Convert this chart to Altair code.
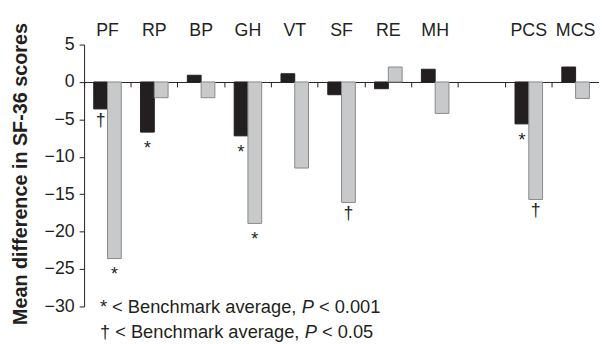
import altair as alt
import pandas as pd

# ---- data ----
categories = ["PF", "RP", "BP", "GH", "VT", "SF", "RE", "MH", " ", "PCS", "MCS"]
bar_categories = ["PF", "RP", "BP", "GH", "VT", "SF", "RE", "MH", "PCS", "MCS"]
series_names = ["A", "B"]
series_a = [-3.6, -6.7, 0.9, -7.2, 1.1, -1.7, -0.9, 1.7, -5.6, 2.0]
series_b = [-23.6, -2.1, -2.1, -18.9, -11.5, -16.1, 2.0, -4.2, -15.7, -2.2]
marks_a = ["†", "*", "", "*", "", "", "", "", "*", ""]
marks_b = ["*", "", "", "*", "", "†", "", "", "†", ""]
legend_lines = [
    ["* < Benchmark average,", "P", "< 0.001"],
    ["† < Benchmark average,", "P", "< 0.05"],
]
y_ticks = [5, 0, -5, -10, -15, -20, -25, -30]
y_title = "Mean difference in SF-36 scores"

# ---- layout ----
W, H = 521, 265
FS = 18
DARK = "#231f20"
GRAY = "#c8c9ca"
GRAY_STROKE = "#8a8a8a"
FONT = "Liberation Sans"

rows = []
for i, c in enumerate(bar_categories):
    rows.append({"cat": c, "series": "A", "value": series_a[i], "mark": marks_a[i]})
    rows.append({"cat": c, "series": "B", "value": series_b[i], "mark": marks_b[i]})
df = pd.DataFrame(rows)

xscale = alt.Scale(domain=categories, paddingInner=0, paddingOuter=0)
yscale = alt.Scale(domain=[-30, 5], nice=False)
xoff = alt.XOffset("series:N", scale=alt.Scale(domain=series_names, paddingOuter=0.7, paddingInner=0))

yaxis = alt.Axis(values=y_ticks, title=y_title, grid=False, domainColor=DARK, tickColor=DARK,
                 tickSize=5, labelPadding=5, labelFontSize=FS, labelFont=FONT, labelColor=DARK,
                 labelExpr="datum.value < 0 ? '\u2212' + abs(datum.value) : datum.label",
                 titleFontSize=20, titleFont=FONT, titleFontWeight="bold", titleColor=DARK,
                 titleAngle=270, titleX=-58, titleY=H / 2 - 2, titleAlign="center",
                 titleBaseline="alphabetic")
yenc = alt.Y("value:Q", scale=yscale, axis=yaxis)

top_axis = alt.Axis(orient="top", title=None, ticks=False, domain=False, labelAngle=0,
                    labelFontSize=FS, labelFont=FONT, labelColor=DARK, labelPadding=5)
bottom_axis = alt.Axis(orient="bottom", title=None, labels=False, ticks=True, tickSize=5,
                       bandPosition=0, domain=True, domainColor=DARK, tickColor=DARK,
                       offset=-(H * 30 / 35))

bars = alt.Chart(df).mark_bar(strokeWidth=1).encode(
    x=alt.X("cat:N", scale=xscale, axis=top_axis),
    xOffset=xoff,
    y=yenc,
    color=alt.Color("series:N", scale=alt.Scale(domain=series_names, range=[DARK, GRAY]), legend=None),
    stroke=alt.Stroke("series:N", scale=alt.Scale(domain=series_names, range=[DARK, GRAY_STROKE]), legend=None),
)

zero_axis = alt.Chart(df).mark_bar(opacity=0).encode(
    x=alt.X("cat:N", scale=xscale, axis=bottom_axis),
    xOffset=xoff,
    y=yenc,
)

star = alt.Chart(df).transform_filter(alt.datum.mark == "*").mark_text(
    baseline="top", dy=8, fontSize=FS, font=FONT, color=DARK).encode(
    x=alt.X("cat:N", scale=xscale, axis=None), xOffset=xoff, y=yenc, text="mark:N")
dagger = alt.Chart(df).transform_filter(alt.datum.mark == "†").mark_text(
    baseline="top", dy=3, fontSize=FS, font=FONT, color=DARK).encode(
    x=alt.X("cat:N", scale=xscale, axis=None), xOffset=xoff, y=yenc, text="mark:N")

# legend text with italic P, segment positions from Arial/Liberation advance widths
ADV = {' ': 278, '*': 389, '<': 584, 'B': 667, 'e': 556, 'n': 556, 'c': 500, 'h': 556, 'm': 833,
       'a': 556, 'r': 333, 'k': 500, 'v': 500, 'g': 556, ',': 278, 'P': 667, '0': 556, '.': 278,
       '1': 556, '5': 556, '†': 556}


def tw(s, fs):
    return sum(ADV.get(ch, 556) for ch in s) * fs / 1000.0


LFS = 18.5
legend_layers = []
for li, segs in enumerate(legend_lines):
    xpos = 16.0
    for si, seg in enumerate(segs):
        legend_layers.append(
            alt.Chart(df).transform_filter(alt.datum.cat == "PF").transform_filter(alt.datum.series == "A")
            .mark_text(align="left", baseline="middle", fontSize=LFS, font=FONT, color=DARK,
                       fontStyle="italic" if si == 1 else "normal")
            .encode(x=alt.value(xpos), y=alt.value(H + 1 + 25 * li), text=alt.value(seg))
        )
        xpos += tw(seg, LFS) + tw(" ", LFS)

chart = alt.layer(zero_axis, bars, star, dagger, *legend_layers).resolve_axis(x="independent").properties(
    width=W, height=H,
    autosize=alt.AutoSizeParams(type="none"),
    padding={"left": 77, "top": 35, "right": 0, "bottom": 38},
).configure_view(stroke=None).configure_axis(grid=False)

chart.save("out.html", embed_options={"renderer": "svg", "actions": False})
